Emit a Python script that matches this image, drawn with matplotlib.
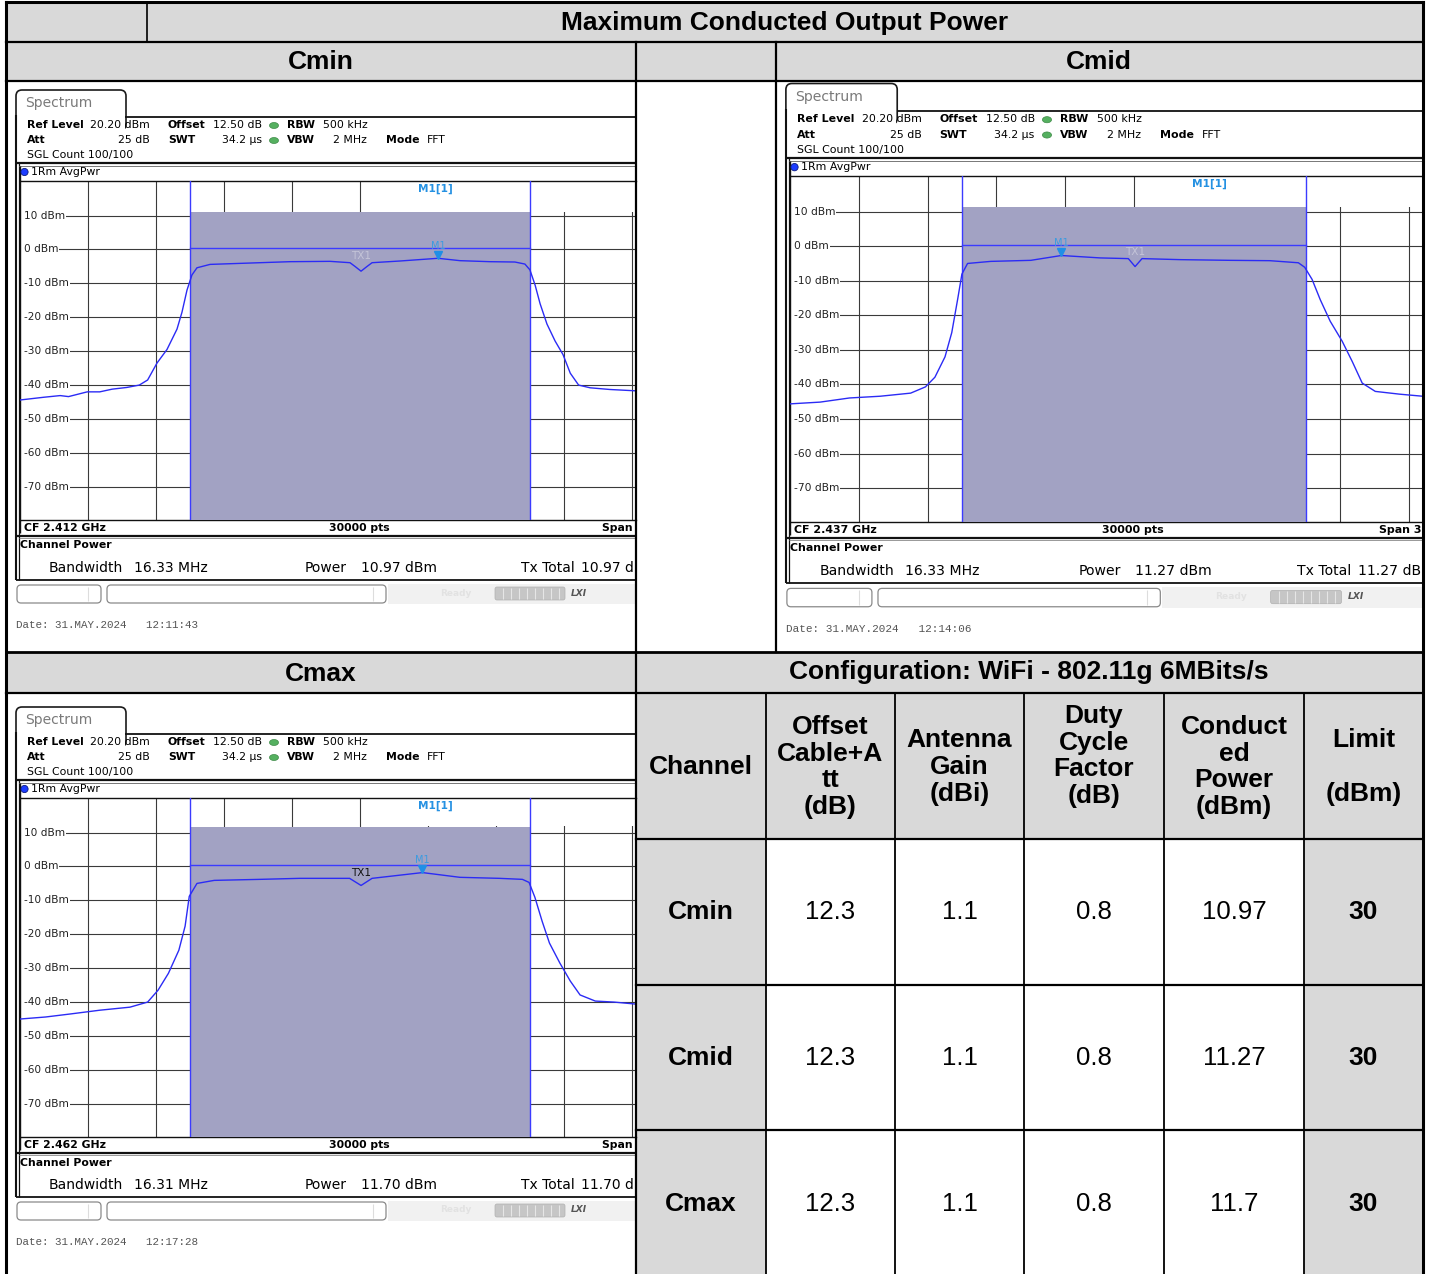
import matplotlib
matplotlib.use("Agg")
import matplotlib.pyplot as plt
from matplotlib.patches import Rectangle, FancyBboxPatch, Circle, Ellipse

W, H = 1431, 1274

# ---- summary table ----
channels = ["Cmin", "Cmid", "Cmax"]
offset_db = ["12.3", "12.3", "12.3"]
antenna_gain = ["1.1", "1.1", "1.1"]
duty_factor = ["0.8", "0.8", "0.8"]
conducted_power = ["10.97", "11.27", "11.7"]
limit_dbm = ["30", "30", "30"]
header_labels = ["Channel", "Offset\nCable+A\ntt\n(dB)", "Antenna\nGain\n(dBi)",
                 "Duty\nCycle\nFactor\n(dB)", "Conduct\ned\nPower\n(dBm)", "Limit\n\n(dBm)"]

# ---- analyzer screens ----
center_freq = ["2.412 GHz", "2.437 GHz", "2.462 GHz"]
channel_bw = [16.33, 16.33, 16.31]
channel_power = [10.97, 11.27, 11.70]
span_mhz = 32.66
dates = ["31.MAY.2024   12:11:43", "31.MAY.2024   12:14:06", "31.MAY.2024   12:17:28"]
m1_freq = [3.75, -3.45, 3.0]
m1_level = [-2.6, -2.7, -1.8]
m1_readout_f = ["2.4157500 GHz", "2.4335500 GHz", "2.4650000 GHz"]
m1_readout_l = ["-2.60 dBm", "-1.93 dBm", "-1.80 dBm"]
tx1_colors = ["#c4c4d8", "#c4c4d8", "#111111"]

# traces (MHz offset from CF, dBm)
cmin_freq = [-16.33, -15.2, -14.4, -14.0, -13.1, -12.5, -11.9, -11.2, -10.6, -10.2, -9.75,
             -9.27, -8.79, -8.55, -8.31, -8.07, -7.83, -7.2, -6.24, -5.28, -4.32, -3.36,
             -1.44, -0.48, -0.24, 0.05, 0.34, 0.58, 1.92, 3.75, 4.8, 6.24, 7.44, 7.92,
             8.16, 8.41, 8.65, 8.98, 9.37, 9.75, 10.1, 10.5, 11.05, 12.0, 13.26]
cmin_level = [-44.4, -43.6, -43.1, -43.4, -42.0, -42.0, -41.2, -40.7, -40.0, -38.5, -33.5,
              -29.5, -23.5, -18.5, -12.0, -7.5, -5.4, -4.4, -4.2, -4.0, -3.8, -3.6,
              -3.5, -3.9, -5.0, -6.4, -5.0, -3.9, -3.4, -2.6, -3.3, -3.6, -3.7, -4.3,
              -6.0, -10.5, -16.0, -22.0, -27.0, -31.0, -36.5, -40.0, -40.8, -41.3, -41.7]
cmid_freq = [-16.3, -14.9, -13.5, -12.05, -10.6, -9.9, -9.45, -8.97, -8.65, -8.36, -8.17,
             -7.9, -6.8, -4.9, -3.45, -1.6, -0.27, 0.05, 0.38, 2.2, 4.6, 6.45, 7.8, 8.1,
             8.45, 8.84, 9.31, 9.88, 10.36, 10.83, 11.45, 12.6, 13.7]
cmid_level = [-45.6, -45.1, -43.9, -43.4, -42.5, -40.7, -37.9, -32.0, -25.0, -15.0, -8.1,
              -5.0, -4.4, -4.1, -2.7, -3.4, -3.6, -5.9, -3.6, -3.9, -4.1, -4.2, -4.8, -6.1,
              -9.6, -15.5, -21.7, -27.5, -33.4, -39.6, -42.0, -42.8, -43.4]
cmax_freq = [-16.33, -15.1, -13.9, -12.5, -11.05, -10.2, -9.7, -9.2, -8.7, -8.4, -8.2,
             -7.83, -7.0, -4.8, -2.9, -0.5, 0.05, 0.58, 3.0, 4.8, 6.7, 7.8, 8.12, 8.4,
             8.75, 9.1, 9.6, 10.1, 10.57, 11.3, 12.2, 13.26]
cmax_level = [-45.0, -44.4, -43.5, -42.4, -41.5, -40.0, -36.5, -31.5, -24.7, -17.6, -8.8,
              -5.0, -4.1, -3.8, -3.5, -3.5, -5.6, -3.5, -1.8, -3.2, -3.5, -3.8, -4.7, -9.1,
              -16.2, -22.6, -28.5, -33.8, -37.9, -39.7, -40.0, -40.6]
traces = [(cmin_freq, cmin_level), (cmid_freq, cmid_level), (cmax_freq, cmax_level)]

# cell rect (x0, y0, x1, y1) and local->global mapping (ox, oy, sx, sy)
screens = [
    ((6, 81, 636, 652), (0.0, 0.0, 1.0, 1.0)),
    ((776, 81, 1423, 652), (769.7, -8.3, 1.012, 1.02)),
    ((6, 693, 636, 1274), (0.0, 617.0, 1.0, 1.0)),
]

GRAY = "#d9d9d9"
TFONT = "Liberation Sans"
SFONT = "DejaVu Sans"

fig = plt.figure(figsize=(W / 100, H / 100), dpi=100)
base = fig.add_axes([0, 0, 1, 1])
base.set_xlim(0, W)
base.set_ylim(H, 0)
base.axis("off")


def cell(ax, x0, y0, x1, y1, fc):
    ax.add_patch(Rectangle((x0, y0), x1 - x0, y1 - y0, fc=fc, ec="none", zorder=0))


# gray shading
cell(base, 6, 2, 1423, 42, GRAY)
cell(base, 6, 42, 1423, 81, GRAY)
cell(base, 6, 652, 1423, 693, GRAY)
cell(base, 636, 693, 1423, 839, GRAY)
cell(base, 636, 839, 766, 1274, GRAY)
cell(base, 1304, 839, 1423, 1274, GRAY)

bold = dict(family=TFONT, weight="bold", fontsize=19, ha="center", va="center")
base.text(785, 23, "Maximum Conducted Output Power", **bold)
base.text(321, 62, "Cmin", **bold)
base.text(1099, 62, "Cmid", **bold)
base.text(321, 674, "Cmax", **bold)
base.text(1029, 672, "Configuration: WiFi - 802.11g 6MBits/s", **bold)

col_edges = [636, 766, 895, 1024, 1164, 1304, 1423]
col_mid = [(a + b) / 2 for a, b in zip(col_edges[:-1], col_edges[1:])]
header_y = [767, 767, 767, 756, 767, 767]
for xm, yy, lab in zip(col_mid, header_y, header_labels):
    base.text(xm, yy, lab, linespacing=1.15, **bold)

row_mid = [912, 1058, 1204]
for r, ym in enumerate(row_mid):
    vals = [channels[r], offset_db[r], antenna_gain[r], duty_factor[r],
            conducted_power[r], limit_dbm[r]]
    for c, v in enumerate(vals):
        if c in (0, 5):
            base.text(col_mid[c], ym, v, **bold)
        else:
            base.text(col_mid[c], ym, v, family=TFONT, fontsize=18.5,
                      ha="center", va="center")


def draw_screen(k):
    (cx0, cy0, cx1, cy1), (ox, oy, sx, sy) = screens[k]
    fs = sx
    ax = fig.add_axes([cx0 / W, 1 - cy1 / H, (cx1 - cx0) / W, (cy1 - cy0) / H])
    ax.set_xlim((cx0 - ox) / sx, (cx1 - ox) / sx)
    ax.set_ylim((cy1 - oy) / sy, (cy0 - oy) / sy)
    ax.axis("off")
    R = 760

    def tx(x, y, s, size=7.8, **kw):
        kw.setdefault("family", SFONT)
        kw.setdefault("va", "center")
        ax.text(x, y, s, fontsize=size * fs, clip_on=True, **kw)

    def ln(xs, ys, c="#111111", lw=1.2):
        ax.plot(xs, ys, color=c, lw=lw, solid_capstyle="butt")

    # tab
    ax.add_patch(FancyBboxPatch((16, 90), 110, 40, boxstyle="round,pad=0,rounding_size=6",
                                fc="white", ec="#1a1a1a", lw=1.2))
    ax.add_patch(Rectangle((15, 116.8), 110, 30, fc="white", ec="none", zorder=2))
    tx(25, 103, "Spectrum", size=10, color="#7a7a7a")
    ln([125.4, R], [116.5, 116.5], lw=1.3)
    ln([16, 16], [115, 580], lw=1.5)
    ln([18.6, 18.6], [163, 580], lw=0.9)

    # settings block
    tx(27, 125, "Ref Level", weight="bold")
    tx(150, 125, "20.20 dBm", ha="right")
    tx(168, 125, "Offset", weight="bold")
    tx(262, 125, "12.50 dB", ha="right")
    tx(287, 125, "RBW", weight="bold")
    tx(323, 125, "500 kHz")
    tx(27, 140, "Att", weight="bold")
    tx(150, 140, "25 dB", ha="right")
    tx(168, 140, "SWT", weight="bold")
    tx(262, 140, "34.2 µs", ha="right")
    tx(287, 140, "VBW", weight="bold")
    tx(367, 140, "2 MHz", ha="right")
    tx(386, 140, "Mode", weight="bold")
    tx(427, 140, "FFT")
    tx(27, 155, "SGL Count 100/100")
    for yy in (125, 140):
        ax.add_patch(Ellipse((274, yy + 0.5), 9, 6, fc="#55b060", ec="#3d8a47", lw=0.5, zorder=3))

    ln([16, R], [163, 163], lw=1.6)
    ln([19, R], [165.5, 165.5], c="#777777", lw=0.7)
    ax.add_patch(Circle((24.5, 172), 3.6, fc="#1c3cff", ec="#0a1a80", lw=0.6, zorder=3))
    tx(31, 172, "1Rm AvgPwr")
    ln([20, 20], [166, 181], lw=1.0)

    # bottom info rows
    tx(24, 528, "CF " + center_freq[k], weight="bold")
    tx(359, 528, "30000 pts", weight="bold", ha="center")
    tx(602, 528, "Span %.2f MHz" % span_mhz, weight="bold")
    ln([20, 20], [520, 533], lw=1.0)
    ln([16, R], [535.5, 535.5], lw=1.6)
    ln([19, R], [537.5, 537.5], c="#888888", lw=0.6)
    tx(20, 545.5, "Channel Power", weight="bold")
    tx(49, 568, "Bandwidth", size=10)
    tx(134, 568, "%.2f MHz" % channel_bw[k], size=10)
    tx(305, 568, "Power", size=10)
    tx(361, 568, "%.2f dBm" % channel_power[k], size=10)
    tx(521, 568, "Tx Total", size=10)
    tx(581, 568, "%.2f dBm" % channel_power[k], size=10)
    ln([16, R], [580, 580], lw=1.3)

    # status bar
    ax.add_patch(FancyBboxPatch((17, 585), 84, 18, boxstyle="round,pad=0,rounding_size=4",
                                fc="white", ec="#8a8a8a", lw=0.9))
    ax.add_patch(FancyBboxPatch((107, 585), 279, 18, boxstyle="round,pad=0,rounding_size=4",
                                fc="white", ec="#8a8a8a", lw=0.9))
    ln([88, 88], [587, 601], c="#dddddd", lw=0.8)
    ln([373, 373], [587, 601], c="#dddddd", lw=0.8)
    ax.add_patch(Rectangle((388, 584), 400, 20, fc="#f1f1f1", ec="none"))
    tx(440, 593, "Ready", size=6.5, weight="bold", color="#e2e2e2")
    ax.add_patch(FancyBboxPatch((495, 587), 70, 13, boxstyle="round,pad=0,rounding_size=2",
                                fc="#c6c6c6", ec="#b0b0b0", lw=0.5))
    for xx in range(503, 563, 8):
        ln([xx, xx], [588, 599], c="#e6e6e6", lw=0.8)
    tx(571, 593, "LXI", size=6.5, weight="bold", style="italic", color="#555555")
    tx(16, 625, "Date: " + dates[k], family="Liberation Mono", color="#555555")

    # marker readout (top right of diagram)
    tx(599, 204, m1_readout_f[k], size=7.8, color="#2591e2", weight="bold")
    tx(641, 189.5, m1_readout_l[k], size=7.8, color="#2591e2", weight="bold")

    # diagram axes
    gl = ox + sx * 20
    gr = min(ox + sx * 700, cx1)
    gt = oy + sy * 181
    gb = oy + sy * 520
    tax = fig.add_axes([gl / W, 1 - gb / H, (gr - gl) / W, (gb - gt) / H])
    lo = -span_mhz / 2
    hi = lo + (gr - gl) / (sx * 680) * span_mhz
    tax.set_xlim(lo, hi)
    tax.set_ylim(-79.8, 20.2)
    tax.set_xticks([])
    tax.set_yticks([])
    tax.spines["right"].set_visible(False)
    for s in ("left", "top", "bottom"):
        tax.spines[s].set_linewidth(1.0)
        tax.spines[s].set_color("#111111")

    for j in range(1, 10):
        tax.axvline(lo + j * span_mhz / 10, color="#3a3a3a", lw=0.8, zorder=1)
    for lv in range(10, -80, -10):
        tax.hlines(lv, lo + 0.2, hi, color="#3a3a3a", lw=0.8, zorder=1)
        tax.text(lo + 0.2, lv, "%d dBm" % lv, fontsize=7.6 * fs, family=SFONT,
                 ha="left", va="center", color="#222222", zorder=2,
                 bbox=dict(fc="white", ec="none", pad=0.5))

    bw = channel_bw[k]
    pw = channel_power[k]
    tax.add_patch(Rectangle((0.2, pw + 0.1), 40, 30, fc="white", ec="none", zorder=2.5))
    tax.fill_between([-bw / 2, bw / 2], -79.8, pw, color="#a2a2c3", lw=0, zorder=3)
    for e in (-bw / 2, bw / 2):
        tax.axvline(e, color="#3b3bff", lw=1.0, zorder=4)
    tax.plot([-bw / 2, bw / 2], [0.3, 0.3], color="#3b3bff", lw=1.0, zorder=4)

    f, lvl = traces[k]
    tax.plot(f, lvl, color="#2b2bf5", lw=1.0, zorder=5)

    tax.plot([m1_freq[k]], [m1_level[k] + 1.0], marker="v", ms=5.5, color="#1f8fe6",
             ls="none", zorder=6)
    tax.text(m1_freq[k], m1_level[k] + 3.6, "M1", fontsize=7 * fs, family=SFONT,
             ha="center", va="center", color="#3c9be0", zorder=6)
    tax.text(0.05, -1.8, "TX1", fontsize=7.5 * fs, family=SFONT, ha="center",
             va="center", color=tx1_colors[k], zorder=6)
    tax.text(3.6, 17.9, "M1[1]", fontsize=7.6 * fs, family=SFONT, weight="bold",
             ha="center", va="center", color="#2591e2", zorder=6)


for k in range(3):
    draw_screen(k)

# table grid lines on top
top = fig.add_axes([0, 0, 1, 1])
top.set_xlim(0, W)
top.set_ylim(H, 0)
top.axis("off")


def hl(y, x0, x1, lw=1.6):
    top.plot([x0, x1], [y, y], color="black", lw=lw, solid_capstyle="projecting")


def vl(x, y0, y1, lw=1.6):
    top.plot([x, x], [y0, y1], color="black", lw=lw, solid_capstyle="projecting")


hl(2, 6, 1423, 2.2)
hl(42, 6, 1423)
hl(81, 6, 1423)
hl(652, 6, 1423, 2.0)
hl(693, 6, 1423)
for yy in (839, 985, 1130):
    hl(yy, 636, 1423)
vl(6, 2, 1274, 2.2)
vl(1423, 2, 1274, 2.2)
vl(147, 2, 42, 1.2)
vl(636, 42, 1274)
vl(776, 42, 652)
for xx in col_edges[1:-1]:
    vl(xx, 693, 1274, 1.3)

fig.savefig("out.png", dpi=100)
